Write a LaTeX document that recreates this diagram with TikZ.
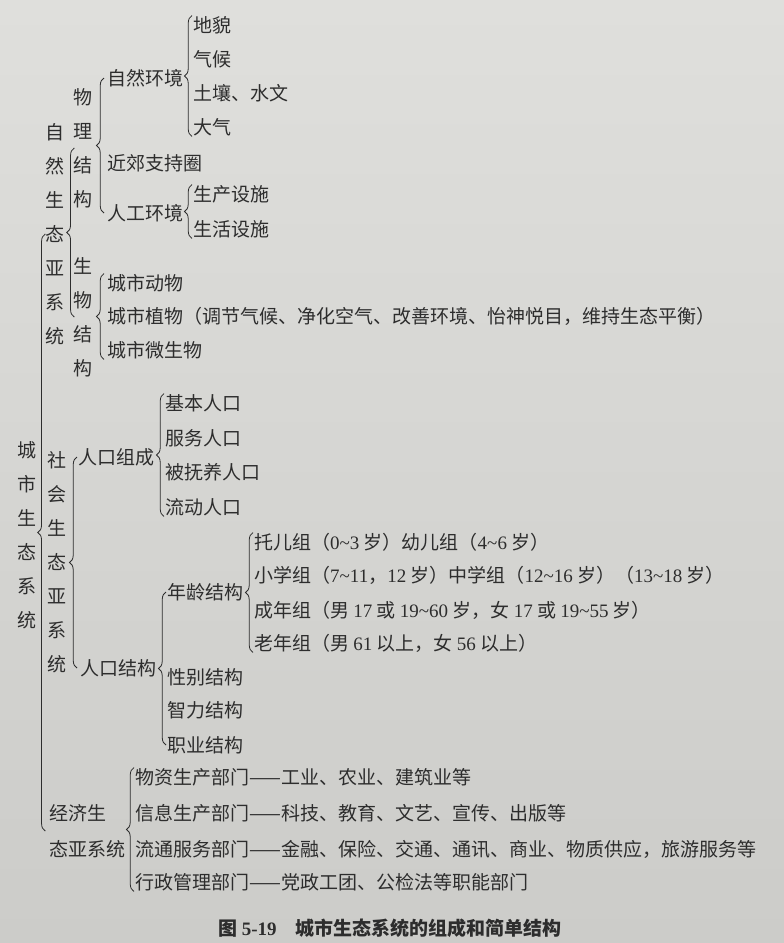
\documentclass[tikz,border=0pt]{standalone}
\usepackage{fontspec}
\setmainfont{Noto Sans CJK SC}
\newfontfamily\latin{Liberation Serif}
\usetikzlibrary{positioning,decorations.pathreplacing}

\newcommand\sz[1]{{\latin #1}}
\definecolor{pagetop}{RGB}{223,223,220}
\definecolor{pagebot}{RGB}{204,204,201}
\definecolor{ink}{RGB}{45,45,45}

\tikzset{
  leaf/.style={anchor=west, inner sep=0pt, text height=16.5pt, text depth=2pt},
  sib/.style={below=#1, anchor=west},
  vt/.style={align=center, inner sep=0pt, font=\fontsize{19}{34}\selectfont},
  brc/.style={decorate, decoration={brace, amplitude=7.5pt}, line width=0.8pt},
}

\begin{document}
\begin{tikzpicture}[x=1pt, y=-1pt, color=ink, font=\fontsize{19}{22}\selectfont]
	\shade[top color=pagetop, bottom color=pagebot] (0,0) rectangle (784,943);
	\useasboundingbox (0,0) rectangle (784,943);

	% vertical titles
	\node[vt] (cs) at (27,535) {城\\市\\生\\态\\系\\统};
	\node[vt] (zr) at (55,234) {自\\然\\生\\态\\亚\\系\\统};
	\node[vt] (wl) at (83,148) {物\\理\\结\\构};
	\node[vt] (sw) at (83,317) {生\\物\\结\\构};
	\node[vt] (sh) at (57,562) {社\\会\\生\\态\\亚\\系\\统};
	\node[anchor=west, inner sep=0pt, align=left, font=\fontsize{19}{36}\selectfont] (jjst) at (49,831) {经济生\\态亚系统};

	% 自然生态亚系统
	\node[leaf] (zrhj) at (107,78) {自然环境};
	\node[leaf, sib=85pt of zrhj.west] (jjzc) {近郊支持圈};
	\node[leaf, sib=50pt of jjzc.west] (rghj) {人工环境};
	\node[leaf] (dm) at (193,25) {地貌};
	\node[leaf, sib=34pt of dm.west] (qh) {气候};
	\node[leaf, sib=34pt of qh.west] (tr) {土壤、水文};
	\node[leaf, sib=34pt of tr.west] (dq) {大气};
	\node[leaf] (scss) at (193,194) {生产设施};
	\node[leaf, sib=35pt of scss.west] (shss) {生活设施};
	\node[leaf] (csdw) at (107,283) {城市动物};
	\node[leaf, sib=33pt of csdw.west] (cszw) {城市植物（调节气候、净化空气、改善环境、怡神悦目，维持生态平衡）};
	\node[leaf, sib=34pt of cszw.west] (cswsw) {城市微生物};

	% 社会生态亚系统
	\node[leaf] (rkzc) at (78,457) {人口组成};
	\node[leaf] (jbrk) at (165,403) {基本人口};
	\node[leaf, sib=35pt of jbrk.west] (fwrk) {服务人口};
	\node[leaf, sib=34pt of fwrk.west] (bfrk) {被抚养人口};
	\node[leaf, sib=35pt of bfrk.west] (ldrk) {流动人口};
	\node[leaf] (rkjg) at (80,668) {人口结构};
	\node[leaf] (nljg) at (167,592) {年龄结构};
	\node[leaf, sib=85pt of nljg.west] (xbjg) {性别结构};
	\node[leaf, sib=33pt of xbjg.west] (zljg) {智力结构};
	\node[leaf, sib=35pt of zljg.west] (zyjg) {职业结构};
	\node[leaf] (tez) at (254,542) {托儿组（\sz{0\textasciitilde3} 岁）幼儿组（\sz{4\textasciitilde6} 岁）};
	\node[leaf, sib=33pt of tez.west] (xxz) {小学组（\sz{7\textasciitilde11}，\sz{12} 岁）中学组（\sz{12\textasciitilde16} 岁）（\sz{13\textasciitilde18} 岁）};
	\node[leaf, sib=35pt of xxz.west] (cnz) {成年组（男 \sz{17} 或 \sz{19\textasciitilde60} 岁，女 \sz{17} 或 \sz{19\textasciitilde55} 岁）};
	\node[leaf, sib=33pt of cnz.west] (lnz) {老年组（男 \sz{61} 以上，女 \sz{56} 以上）};

	% 经济生态亚系统
	\node[leaf] (wzbm) at (135,777) {物资生产部门——工业、农业、建筑业等};
	\node[leaf, sib=36pt of wzbm.west] (xxbm) {信息生产部门——科技、教育、文艺、宣传、出版等};
	\node[leaf, sib=36pt of xxbm.west] (ltbm) {流通服务部门——金融、保险、交通、通讯、商业、物质供应，旅游服务等};
	\node[leaf, sib=33pt of ltbm.west] (xzbm) {行政管理部门——党政工团、公检法等职能部门};

	\node[font=\fontsize{19}{22}\selectfont\bfseries] (cap) at (390,928) {图 \sz{\bfseries 5-19}\quad 城市生态系统的组成和简单结构};

	% braces
	\draw[brc] (jjst.west -| zr.west) -- (zr.west);
	\draw[brc] ([xshift=1pt]sw.west) -- ([xshift=1pt]wl.west);
	\draw[brc] ([xshift=-3pt]rghj.west) -- ([xshift=-3pt]zrhj.west);
	\draw[brc] ([xshift=-1pt]dq.south west) -- ([xshift=-1pt]dm.north west);
	\draw[brc] ([xshift=-1pt]shss.south west) -- ([xshift=-1pt]scss.north west);
	\draw[brc] ([xshift=-3pt]cswsw.south west) -- ([xshift=-3pt]csdw.north west);
	\draw[brc] ([xshift=-1pt]rkjg.west -| rkzc.west) -- ([xshift=-1pt]rkzc.west);
	\draw[brc] ([xshift=-1pt]ldrk.south west) -- ([xshift=-1pt]jbrk.north west);
	\draw[brc] ([xshift=-1pt]zyjg.west) -- ([xshift=-1pt]nljg.west);
	\draw[brc] ([xshift=-1pt]lnz.south west) -- ([xshift=-1pt]tez.north west);
	\draw[brc] ([xshift=-1pt]xzbm.south west) -- ([xshift=-1pt]wzbm.north west);
\end{tikzpicture}
\end{document}
